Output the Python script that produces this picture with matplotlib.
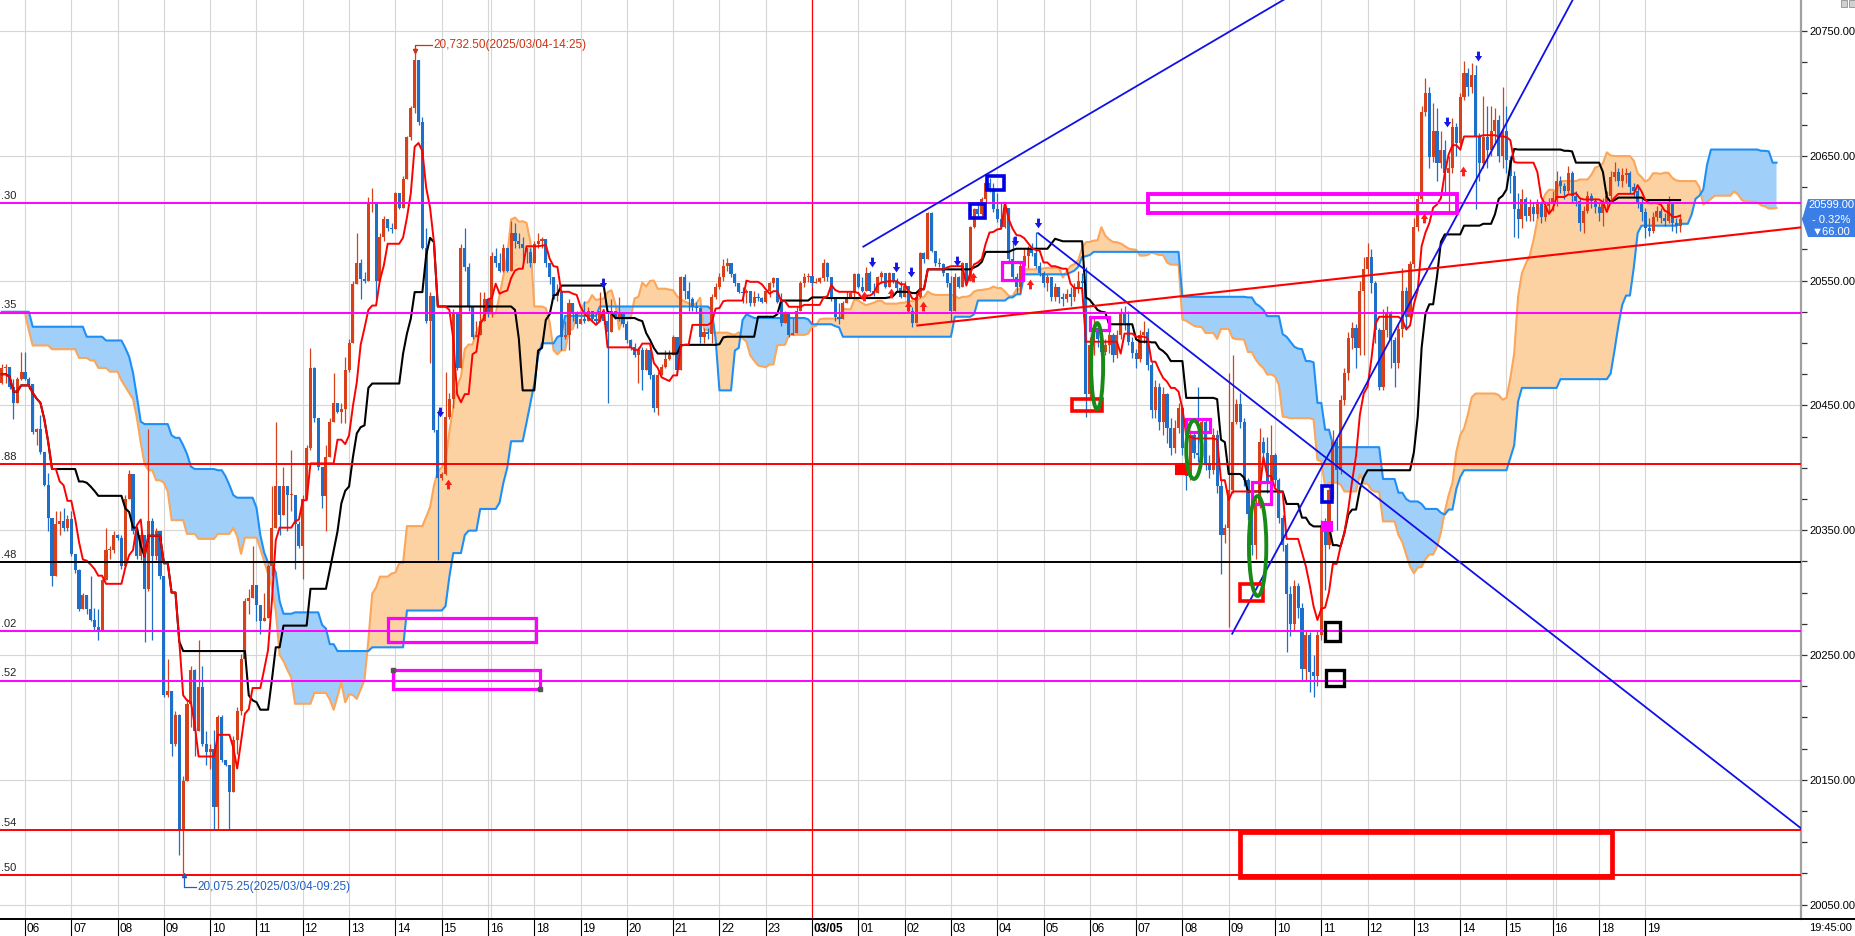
import numpy as np
import pandas as pd
import matplotlib
matplotlib.use("Agg")
import matplotlib.pyplot as plt
from matplotlib.patches import Rectangle, Ellipse, Polygon
from matplotlib.path import Path
from matplotlib.lines import Line2D
import matplotlib.transforms as mtransforms
from matplotlib.ticker import MultipleLocator

plt.rcParams['font.family'] = ['Liberation Sans', 'DejaVu Sans']

# ---------------- data (5-minute bars, bar 0 = 06:00 on 03/04) ----------------
FIRST_BAR = -6
FIRST_OPEN = 20468

close = [
    20480, 20481, 20465, 20452, 20471, 20477,
    20471, 20467, 20429, 20431, 20413, 20386, 20360, 20313, 20355, 20357, 20352, 20359,
    20331, 20318, 20287, 20298, 20287, 20278, 20272, 20270, 20310, 20334, 20334, 20346,
    20344, 20321, 20375, 20395, 20349, 20329, 20346, 20303, 20357, 20329, 20349, 20313,
    20218, 20221, 20179, 20202, 20110, 20149, 20211, 20238, 20189, 20224, 20179, 20172,
    20175, 20128, 20200, 20166, 20162, 20140, 20182, 20205, 20247, 20293, 20296, 20306,
    20290, 20277, 20280, 20321, 20352, 20385, 20362, 20385, 20378, 20378, 20355, 20337,
    20375, 20416, 20480, 20440, 20401, 20377, 20409, 20437, 20452, 20445, 20447, 20478,
    20500, 20547, 20564, 20551, 20550, 20611, 20612, 20550, 20585, 20599, 20592, 20591,
    20620, 20608, 20631, 20665, 20688, 20727, 20677, 20576, 20518, 20538, 20430, 20392,
    20395, 20441, 20455, 20524, 20480, 20576, 20561, 20529, 20505, 20506, 20518, 20535,
    20524, 20570, 20564, 20558, 20576, 20558, 20588, 20582, 20579, 20576, 20573, 20564,
    20579, 20582, 20583, 20564, 20553, 20538, 20541, 20505, 20506, 20532, 20524, 20515,
    20519, 20518, 20526, 20519, 20518, 20526, 20518, 20509, 20526, 20521, 20523, 20515,
    20502, 20497, 20490, 20494, 20478, 20494, 20474, 20448, 20474, 20481, 20487, 20490,
    20505, 20478, 20553, 20542, 20535, 20529, 20528, 20505, 20509, 20507, 20537, 20545,
    20553, 20562, 20564, 20555, 20548, 20541, 20540, 20542, 20532, 20537, 20536, 20533,
    20542, 20548, 20552, 20533, 20516, 20525, 20506, 20508, 20526, 20548, 20553, 20554,
    20548, 20549, 20552, 20564, 20553, 20536, 20521, 20519, 20532, 20537, 20540, 20555,
    20545, 20542, 20556, 20542, 20540, 20553, 20556, 20545, 20556, 20549, 20544, 20537,
    20546, 20526, 20516, 20537, 20572, 20567, 20604, 20574, 20564, 20563, 20556, 20548,
    20526, 20553, 20545, 20564, 20550, 20593, 20607, 20603, 20615, 20628, 20623, 20607,
    20599, 20593, 20608, 20567, 20553, 20545, 20562, 20570, 20575, 20572, 20562, 20556,
    20548, 20553, 20537, 20545, 20537, 20535, 20539, 20537, 20545, 20550, 20548, 20459,
    20498, 20512, 20503, 20493, 20498, 20506, 20490, 20506, 20523, 20516, 20501, 20492,
    20487, 20506, 20509, 20482, 20446, 20465, 20437, 20459, 20432, 20416, 20432, 20448,
    20416, 20393, 20426, 20412, 20410, 20437, 20404, 20398, 20426, 20385, 20346, 20352,
    20382, 20437, 20451, 20437, 20390, 20363, 20338, 20371, 20421, 20412, 20388, 20410,
    20390, 20360, 20338, 20299, 20275, 20305, 20288, 20239, 20266, 20236, 20233, 20266,
    20354, 20338, 20382, 20421, 20398, 20454, 20476, 20504, 20512, 20496, 20542, 20559,
    20569, 20548, 20510, 20465, 20510, 20524, 20502, 20484, 20511, 20542, 20521, 20563,
    20593, 20615, 20685, 20700, 20649, 20670, 20644, 20655, 20636, 20640, 20673, 20660,
    20697, 20716, 20705, 20715, 20665, 20644, 20665, 20655, 20670, 20679, 20650, 20670,
    20647, 20634, 20607, 20599, 20615, 20602, 20609, 20603, 20611, 20601, 20610, 20612,
    20616, 20630, 20626, 20622, 20636, 20618, 20614, 20596, 20606, 20618, 20614, 20609,
    20604, 20612, 20618, 20633, 20637, 20630, 20635, 20636, 20625, 20622, 20612, 20605,
    20592, 20590, 20601, 20606, 20600, 20598, 20612, 20596, 20594, 20599,
]
high = [
    20483, 20483, 20481, 20471, 20473, 20493,
    20493, 20473, 20467, 20432, 20442, 20413, 20396, 20360, 20365, 20365, 20368, 20362,
    20365, 20331, 20319, 20300, 20298, 20313, 20288, 20287, 20311, 20352, 20337, 20349,
    20347, 20346, 20378, 20398, 20386, 20352, 20349, 20346, 20431, 20360, 20352, 20349,
    20313, 20247, 20221, 20205, 20203, 20153, 20215, 20241, 20239, 20262, 20241, 20189,
    20179, 20190, 20202, 20202, 20166, 20161, 20185, 20208, 20251, 20296, 20303, 20337,
    20303, 20290, 20300, 20323, 20385, 20437, 20385, 20401, 20385, 20414, 20378, 20357,
    20378, 20418, 20496, 20481, 20431, 20398, 20418, 20440, 20476, 20452, 20452, 20489,
    20503, 20550, 20588, 20567, 20557, 20617, 20624, 20576, 20588, 20602, 20599, 20596,
    20621, 20620, 20634, 20666, 20690, 20732.5, 20726, 20681, 20592, 20541, 20538, 20446,
    20397, 20477, 20460, 20527, 20524, 20579, 20592, 20564, 20523, 20518, 20541, 20541,
    20535, 20573, 20576, 20572, 20579, 20576, 20598, 20596, 20588, 20585, 20576, 20576,
    20582, 20588, 20585, 20583, 20564, 20553, 20547, 20541, 20518, 20535, 20532, 20526,
    20524, 20534, 20529, 20526, 20524, 20541, 20526, 20526, 20535, 20526, 20537, 20521,
    20518, 20503, 20500, 20497, 20497, 20496, 20497, 20475, 20477, 20483, 20494, 20494,
    20506, 20494, 20554, 20555, 20549, 20537, 20533, 20529, 20512, 20512, 20539, 20548,
    20556, 20567, 20568, 20564, 20556, 20548, 20545, 20543, 20542, 20542, 20540, 20537,
    20543, 20549, 20553, 20550, 20540, 20526, 20525, 20520, 20529, 20550, 20556, 20556,
    20554, 20552, 20553, 20567, 20565, 20553, 20536, 20532, 20534, 20542, 20542, 20556,
    20556, 20553, 20561, 20558, 20548, 20554, 20558, 20553, 20557, 20556, 20552, 20550,
    20550, 20546, 20529, 20540, 20573, 20573, 20605, 20605, 20574, 20568, 20564, 20556,
    20554, 20556, 20554, 20565, 20564, 20594, 20608, 20611, 20617, 20633, 20632, 20628,
    20620, 20612, 20609, 20601, 20585, 20556, 20565, 20575, 20578, 20580, 20589, 20565,
    20558, 20555, 20553, 20548, 20545, 20540, 20543, 20545, 20548, 20558, 20556, 20561,
    20505, 20520, 20515, 20506, 20503, 20510, 20508, 20510, 20528, 20530, 20526, 20505,
    20495, 20510, 20518, 20512, 20485, 20470, 20468, 20465, 20460, 20440, 20438, 20452,
    20450, 20420, 20430, 20428, 20465, 20440, 20440, 20410, 20432, 20430, 20390, 20355,
    20476, 20490, 20455, 20460, 20440, 20392, 20365, 20375, 20432, 20425, 20425, 20434,
    20412, 20392, 20362, 20340, 20305, 20310, 20308, 20292, 20270, 20268, 20250, 20270,
    20358, 20360, 20385, 20430, 20425, 20458, 20480, 20509, 20517, 20515, 20550, 20569,
    20580, 20575, 20550, 20512, 20527, 20530, 20526, 20505, 20515, 20560, 20545, 20566,
    20600, 20620, 20690, 20712, 20705, 20692, 20688, 20670, 20663, 20650, 20680, 20676,
    20700, 20726, 20720, 20724, 20723, 20668, 20698, 20690, 20690, 20688, 20683, 20705,
    20690, 20650, 20638, 20620, 20623, 20617, 20615, 20613, 20615, 20612, 20614, 20616,
    20622, 20638, 20634, 20628, 20642, 20638, 20622, 20616, 20610, 20622, 20620, 20616,
    20612, 20616, 20622, 20638, 20645, 20640, 20640, 20640, 20638, 20628, 20625, 20615,
    20608, 20600, 20605, 20610, 20608, 20604, 20618, 20612, 20600, 20603,
]
low = [
    20467, 20468, 20463, 20439, 20463, 20470,
    20470, 20463, 20427, 20418, 20411, 20385, 20349, 20305, 20313, 20346, 20349, 20349,
    20329, 20316, 20285, 20288, 20283, 20277, 20270, 20262, 20270, 20310, 20327, 20332,
    20342, 20319, 20326, 20375, 20347, 20327, 20326, 20260, 20301, 20262, 20326, 20311,
    20216, 20216, 20169, 20177, 20090, 20075.25, 20149, 20192, 20169, 20189, 20177, 20162,
    20159, 20110, 20110, 20164, 20161, 20110, 20140, 20171, 20202, 20247, 20283, 20296,
    20277, 20267, 20277, 20296, 20313, 20352, 20346, 20365, 20349, 20365, 20319, 20336,
    20311, 20375, 20414, 20437, 20398, 20368, 20349, 20409, 20437, 20444, 20436, 20436,
    20477, 20500, 20547, 20535, 20548, 20557, 20605, 20535, 20550, 20582, 20590, 20588,
    20593, 20607, 20608, 20631, 20663, 20684, 20675, 20575, 20516, 20484, 20429, 20326,
    20390, 20394, 20439, 20448, 20478, 20480, 20558, 20526, 20503, 20505, 20516, 20518,
    20521, 20521, 20561, 20557, 20557, 20557, 20564, 20576, 20576, 20564, 20564, 20561,
    20564, 20576, 20576, 20561, 20547, 20535, 20534, 20494, 20503, 20494, 20518, 20512,
    20518, 20516, 20518, 20518, 20515, 20518, 20515, 20452, 20509, 20519, 20518, 20513,
    20500, 20494, 20489, 20468, 20462, 20478, 20471, 20445, 20442, 20474, 20480, 20486,
    20494, 20474, 20478, 20535, 20526, 20526, 20524, 20500, 20500, 20503, 20500, 20535,
    20543, 20550, 20558, 20553, 20546, 20540, 20532, 20532, 20530, 20530, 20534, 20532,
    20532, 20537, 20545, 20532, 20514, 20516, 20505, 20506, 20508, 20526, 20545, 20549,
    20546, 20548, 20548, 20550, 20550, 20534, 20518, 20515, 20521, 20532, 20536, 20537,
    20544, 20541, 20542, 20541, 20538, 20542, 20548, 20544, 20545, 20548, 20542, 20536,
    20537, 20525, 20513, 20516, 20536, 20564, 20567, 20573, 20562, 20561, 20554, 20545,
    20518, 20526, 20544, 20545, 20549, 20550, 20592, 20601, 20601, 20612, 20621, 20605,
    20597, 20592, 20592, 20565, 20550, 20540, 20540, 20555, 20560, 20570, 20560, 20554,
    20545, 20542, 20534, 20534, 20532, 20530, 20533, 20530, 20534, 20540, 20540, 20441,
    20455, 20490, 20497, 20490, 20490, 20492, 20485, 20488, 20503, 20510, 20498, 20488,
    20480, 20485, 20500, 20478, 20440, 20440, 20430, 20426, 20420, 20410, 20412, 20428,
    20410, 20382, 20390, 20408, 20405, 20405, 20398, 20392, 20395, 20380, 20315, 20340,
    20272, 20380, 20435, 20432, 20385, 20358, 20330, 20327, 20368, 20405, 20380, 20385,
    20385, 20356, 20333, 20252, 20265, 20270, 20280, 20230, 20230, 20220, 20216, 20225,
    20262, 20302, 20335, 20375, 20350, 20395, 20450, 20470, 20495, 20480, 20490, 20490,
    20555, 20540, 20500, 20462, 20462, 20505, 20480, 20465, 20480, 20505, 20510, 20520,
    20560, 20590, 20612, 20682, 20640, 20645, 20630, 20640, 20620, 20605, 20636, 20650,
    20655, 20695, 20698, 20700, 20607, 20630, 20640, 20640, 20650, 20660, 20645, 20640,
    20636, 20620, 20585, 20584, 20592, 20598, 20598, 20598, 20600, 20596, 20598, 20604,
    20606, 20610, 20620, 20615, 20620, 20613, 20610, 20590, 20588, 20604, 20608, 20604,
    20598, 20594, 20608, 20615, 20630, 20626, 20625, 20628, 20620, 20618, 20608, 20598,
    20584, 20586, 20588, 20598, 20596, 20594, 20596, 20590, 20588, 20589,
]

# leading cloud values (bars -6..69) (history before the window)
span_a_head = ([20524] * 7 + [20510] + [20498] * 5 + [20495] * 7 + [20488] * 3 + [20486] * 2
               + [20480] * 3 + [20477] * 3 + [20470, 20465, 20460, 20455, 20440, 20420, 20403]
               + [20398] * 2 + [20390] * 2 + [20388, 20381] + [20358] * 4 + [20347] * 3
               + [20343] * 5 + [20347] * 4 + [20352, 20345, 20331] + [20344] * 4
               + [20335, 20325, 20315, 20305, 20285, 20250, 20245, 20238, 20232])
span_b_head = ([20525] * 8 + [20513] * 14 + [20505] * 5 + [20502] * 5
               + [20496, 20489, 20476, 20457, 20437] + [20435] * 7 + [20426] + [20424] * 2
               + [20418, 20411, 20401] + [20399] * 6 + [20398] * 2 + [20393, 20386, 20378]
               + [20376] * 5 + [20368, 20346, 20332] + [20324] * 2 + [20316, 20293] + [20283] * 3)

hour_labels = ["06", "07", "08", "09", "10", "11", "12", "13", "14", "15", "16", "18", "19",
               "20", "21", "22", "23", "03/05", "01", "02", "03", "04", "05", "06", "07", "08",
               "09", "10", "11", "12", "13", "14", "15", "16", "18", "19"]
BARS_PER_HOUR = 12
LAST_TIME = "19:45:00"

level_prices = [20612.30, 20524.35, 20402.88, 20324.48, 20269.02, 20229.52, 20109.54, 20073.50]
level_colors = ['#ff00ff', '#ff00ff', '#ff0000', '#000000', '#ff00ff', '#ff00ff', '#ff0000', '#ff0000']

high_mark = (101, 20732.50, "2025/03/04-14:25")
low_mark = (41, 20075.25, "2025/03/04-09:25")
CHANGE = -66.00
CHANGE_PCT = -0.32

blue_trends = [((217.3, 20577.2), (340.0, 20800.0)),
               ((312.9, 20267.0), (405.0, 20797.0)),
               ((262.6, 20588.0), (460.5, 20110.7))]
red_trends = [((231.3, 20514.0), (460.3, 20592.6))]

magenta_boxes = [(94.1, 20260.4, 132.5, 20279.6), (95.4, 20222.7, 133.4, 20238.0),
                 (291.2, 20604.4, 371.1, 20619.5), (253.2, 20550.5, 258.8, 20565.1),
                 (276.0, 20510.0, 281.1, 20521.0), (300.9, 20428.3, 307.2, 20439.4),
                 (318.1, 20371.2, 323.0, 20388.6)]
magenta_fill = [(336.1, 20349.2, 338.9, 20356.5)]
blue_boxes = [(244.9, 20599.9, 248.8, 20611.4), (249.3, 20622.6, 253.8, 20634.0),
              (336.1, 20372.6, 338.9, 20385.0)]
red_boxes = [(271.3, 20445.2, 279.1, 20454.9), (314.9, 20293.4, 321.0, 20307.2)]
red_big_box = (315.0, 20072.0, 411.4, 20108.1)
red_fill = [(298.3, 20394.7, 301.5, 20403.0)]
black_boxes = [(337.0, 20260.9, 340.9, 20276.6), (337.2, 20224.9, 341.9, 20238.2)]
green_ellipses = [(277.9, 20481.5, 3.1, 68.9), (303.0, 20414.5, 4.0, 46.9), (319.5, 20337.3, 4.5, 80.1)]
down_arrows_x = [107.6, 149.7, 219.6, 225.7, 229.7, 241.6, 256.6, 262.6, 368.7, 376.7]
down_arrows_y = [20445, 20548, 20565, 20561, 20557, 20566, 20582, 20596, 20677, 20730]
up_arrows_x = [109.7, 217.5, 224.5, 228.8, 232.7, 245.6, 260.5, 362.7, 372.7]
up_arrows_y = [20387, 20538, 20540, 20530, 20530, 20553, 20547, 20600, 20638]

# ---------------- styles ----------------
UP = '#d8401a'
DOWN = '#1d6fc9'
GRID = '#d6d6d6'
W, H = 1856, 936

fig = plt.figure(figsize=(W / 100, H / 100), dpi=100)
fig.patch.set_facecolor('white')
ax = fig.add_axes([0, 17 / H, 1801 / W, 919 / H])
ax.set_facecolor('white')
ax.set_xlim(-6.48, 460.34)
ax.set_ylim(20038.4, 20774.84)

# grid
yt = np.arange(20050, 20751, 100)
for v in yt:
    ax.axhline(v, color=GRID, lw=0.8, zorder=0.5)
tick_bars = [BARS_PER_HOUR * i for i in range(len(hour_labels))]
for b, lab in zip(tick_bars, hour_labels):
    if lab == "03/05":
        ax.axvline(b, color='#ff0000', lw=0.9, zorder=0.6)
    else:
        ax.axvline(b, color=GRID, lw=0.8, zorder=0.5)
    if lab == "16":
        ax.axvline(b + 0.8, color=GRID, lw=0.8, zorder=0.5)

# candles
c = np.asarray(close, float)
h = np.asarray(high, float)
l = np.asarray(low, float)
n = min(len(c), len(h), len(l))
c, h, l = c[:n], h[:n], l[:n]
o = np.r_[FIRST_OPEN, c[:-1]]
h = np.maximum(h, np.maximum(o, c))
l = np.minimum(l, np.minimum(o, c))
x = FIRST_BAR + np.arange(n)
col = np.where(c >= o, UP, DOWN)

# ichimoku
sh, sl = pd.Series(h), pd.Series(l)


def mid(w):
    return ((sh.rolling(w, min_periods=1).max() + sl.rolling(w, min_periods=1).min()) / 2).to_numpy()


tenkan, kijun, mid52 = mid(9), mid(26), mid(52)
SHIFT = 25
cx = FIRST_BAR + np.arange(n + SHIFT)
span_a = np.empty(n + SHIFT)
span_b = np.empty(n + SHIFT)
span_a[SHIFT:] = (tenkan + kijun) / 2
span_b[SHIFT:] = mid52
span_a[:len(span_a_head)] = span_a_head
span_b[:len(span_b_head)] = span_b_head

ax.fill_between(cx, span_a, span_b, where=span_a >= span_b, interpolate=True,
                color='#fdd2a2', lw=0, zorder=1)
ax.fill_between(cx, span_a, span_b, where=span_b > span_a, interpolate=True,
                color='#a0d0fa', lw=0, zorder=1)
ax.plot(cx, span_a, color='#fba65a', lw=1.5, zorder=1.5)
ax.plot(cx, span_b, color='#1e8ff5', lw=1.5, zorder=1.6)

ax.vlines(x, l, h, colors=col, lw=0.9, zorder=3)
ax.bar(x, np.maximum(np.abs(c - o), 1.0), bottom=np.minimum(o, c), width=0.8,
       color=col, lw=0, zorder=3.1)

ax.plot(x, kijun, color='black', lw=1.5, zorder=4)
ax.plot(x, tenkan, color='#ff0000', lw=1.4, zorder=4.1)

# horizontal levels (left-edge labels show only the tail of the price, as in the chart)
for p, cc in zip(level_prices, level_colors):
    ax.axhline(p, color=cc, lw=1.4, zorder=4.5)
    ax.text(-6.2, p + 1.8, f"{p:.2f}"[-3:], ha='left', va='bottom', fontsize=8,
            color='#222222', zorder=8)

# trend lines
for (x0, y0), (x1, y1) in blue_trends:
    ax.plot([x0, x1], [y0, y1], color='#1010e8', lw=1.3, zorder=5)
for (x0, y0), (x1, y1) in red_trends:
    ax.plot([x0, x1], [y0, y1], color='#ff0000', lw=1.5, zorder=5)


def box(b, ec, lw, fc='none'):
    x0, y0, x1, y1 = b
    ax.add_patch(Rectangle((x0, y0), x1 - x0, y1 - y0, facecolor=fc, edgecolor=ec,
                           lw=lw, zorder=6))


for i, b in enumerate(magenta_boxes):
    box(b, '#ff00ff', 2.8 if i == 2 else 2.3)
for b in magenta_fill:
    box(b, '#ff00ff', 1.5, fc='#ff00ff')
for b in blue_boxes:
    box(b, '#0000e6', 2.6)
for b in red_boxes:
    box(b, '#ff0000', 2.6)
box(red_big_box, '#ff0000', 3.4)
for b in red_fill:
    box(b, '#ff0000', 1.5, fc='#ff0000')
for b in black_boxes:
    box(b, '#000000', 2.4)
# small corner handles on the second magenta box
mb = magenta_boxes[1]
ax.plot([mb[0], mb[2]], [mb[3], mb[1]], ls='none', marker='s', ms=3, color='#555555', zorder=6.5)

for ex, ey, ew, eh in green_ellipses:
    ax.add_patch(Ellipse((ex, ey), ew, eh, fill=False, edgecolor='#178a17', lw=2.8, zorder=6))

# arrows
dv = [(-0.3, 1.0), (0.3, 1.0), (0.3, 0.1), (0.75, 0.1), (0.0, -1.0), (-0.75, 0.1), (-0.3, 0.1), (-0.3, 1.0)]
codes = [Path.MOVETO] + [Path.LINETO] * 6 + [Path.CLOSEPOLY]
down_arrow = Path(dv, codes)
up_arrow = Path([(a, -b) for a, b in dv], codes)
ax.plot(down_arrows_x, down_arrows_y, ls='none', marker=down_arrow, ms=7, color='#1515e6', mew=0, zorder=7)
ax.plot(up_arrows_x, up_arrows_y, ls='none', marker=up_arrow, ms=7, color='#ff1a1a', mew=0, zorder=7)

# high / low annotations
hb, hp, hs = high_mark
ax.plot([hb, hb, hb + 4.6], [hp + 1.0, hp + 6.3, hp + 6.3], color='#cc3311', lw=0.9, zorder=7)
ax.plot([hb], [hp + 1.5], marker='v', ms=3, color='#cc3311', zorder=7)
ax.text(hb + 4.9, hp + 6.3, f"{hp:,.2f}({hs})", ha='left', va='center', fontsize=8.5,
        color='#cc3311', zorder=8)
lb, lp, ls_ = low_mark
ax.plot([lb + 0.3, lb + 0.3, lb + 3.4], [lp - 1.0, lp - 11.0, lp - 11.0], color='#1f5fbf', lw=0.9, zorder=7)
ax.plot([lb + 0.3], [lp - 1.5], marker='^', ms=3, color='#1f5fbf', zorder=7)
ax.text(lb + 3.6, lp - 11.0, f"{lp:,.2f}({ls_})", ha='left', va='center', fontsize=8.5,
        color='#1f5fbf', zorder=8)

# right axis
for s in ['top', 'left', 'bottom']:
    ax.spines[s].set_visible(False)
ax.spines['right'].set_color('#a0a0a0')
ax.spines['right'].set_linewidth(1.6)
ax.yaxis.tick_right()
ax.set_yticks(yt)
ax.set_yticklabels([f"{v:.2f}" for v in yt])
ax.yaxis.set_minor_locator(MultipleLocator(25))
ax.tick_params(axis='y', which='both', direction='out', length=4, width=0.9, color='#333333',
               labelsize=8, pad=2, labelcolor='black')
ax.set_xticks([])

# bottom axis
fig.add_artist(Line2D([0, 1], [17 / H, 17 / H], transform=fig.transFigure, color='black', lw=1.4))
trans = mtransforms.blended_transform_factory(ax.transData, ax.transAxes)
for b, lab in zip(tick_bars, hour_labels):
    ax.plot([b, b], [0, -17 / 919], transform=trans, color='black', lw=0.8, clip_on=False)
    ax.text(b + 0.45, -9.5 / 919, lab, transform=trans, ha='left', va='center', fontsize=8.5,
            fontweight='bold' if lab == "03/05" else 'normal', clip_on=False)
fig.text(1809 / W, 1 - 928 / H, LAST_TIME, ha='left', va='center', fontsize=8)

# current price tag
last = c[-1]
bt = mtransforms.blended_transform_factory(fig.transFigure, ax.transData)
tag = Polygon([(1802 / W, last), (1808 / W, last + 16.3), (1855 / W, last + 16.3),
               (1855 / W, last - 14.1), (1808 / W, last - 14.1)], closed=True,
              transform=bt, facecolor='#3b7fe6', edgecolor='none', clip_on=False, zorder=10)
fig.add_artist(tag)
for dy, txt in [(11.3, f"{last:.2f}"), (-0.5, f"- {abs(CHANGE_PCT):.2f}%"), (-10.3, f"\u25bc{abs(CHANGE):.2f}")]:
    fig.text(1831 / W, last + dy, txt, transform=bt, ha='center', va='center', fontsize=8,
             color='white', family=['Liberation Sans', 'DejaVu Sans'], zorder=11)

# top right small icons
fig.add_artist(Rectangle((1841 / W, 1 - 7 / H), 6 / W, 7 / H, transform=fig.transFigure,
                         facecolor='#d0d0d0', edgecolor='#909090', lw=0.6))
fig.add_artist(Rectangle((1849 / W, 1 - 7 / H), 6 / W, 7 / H, transform=fig.transFigure,
                         facecolor='#d0d0d0', edgecolor='#909090', lw=0.6))

fig.savefig('out.png', dpi=100, facecolor='white')
